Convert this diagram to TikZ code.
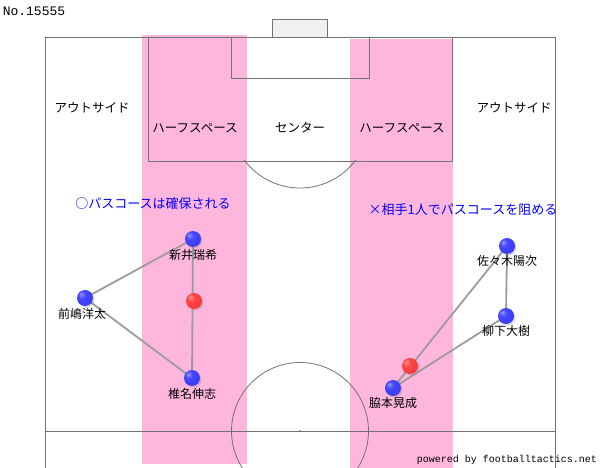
\documentclass[tikz,border=0pt]{standalone}
\usepackage{fontspec}
\setmainfont{Noto Sans CJK JP}
\setmonofont{Liberation Mono}
\usetikzlibrary{positioning,shadows}

\definecolor{halfpink}{RGB}{255,182,220}
\definecolor{goalgrey}{RGB}{240,240,240}
\definecolor{lineg}{RGB}{115,115,115}
\definecolor{passg}{RGB}{155,155,155}

\pgfdeclareradialshading{blueball}{\pgfpoint{-12bp}{12bp}}{%
  color(0bp)=(rgb,255:red,150;green,150;blue,255);
  color(12bp)=(rgb,255:red,70;green,70;blue,255);
  color(40bp)=(rgb,255:red,55;green,55;blue,240);
  color(75bp)=(rgb,255:red,30;green,30;blue,170)}
\pgfdeclareradialshading{redball}{\pgfpoint{-12bp}{12bp}}{%
  color(0bp)=(rgb,255:red,255;green,150;blue,150);
  color(12bp)=(rgb,255:red,255;green,70;blue,70);
  color(40bp)=(rgb,255:red,240;green,50;blue,50);
  color(75bp)=(rgb,255:red,170;green,25;blue,25)}

\pgfdeclarelayer{pitch}
\pgfdeclarelayer{passes}
\pgfsetlayers{pitch,passes,main}

\tikzset{
  pitchline/.style={draw=lineg,line width=0.8pt},
  zone/.style={font=\fontsize{12.5}{14}\selectfont,inner sep=0pt},
  note/.style={font=\fontsize{13}{15}\selectfont,text=blue,inner sep=0pt},
  player/.style={circle,inner sep=0pt,minimum size=16pt,shading=blueball,
    drop shadow={opacity=0.3,shadow xshift=1.5pt,shadow yshift=-1.5pt}},
  rival/.style={player,shading=redball},
  playername/.style={font=\fontsize{12}{14}\selectfont,inner sep=0pt},
  passline/.style={draw=passg,line width=1.8pt},
}

\begin{document}
\begin{tikzpicture}[x=1pt,y=-1pt]
\useasboundingbox (0,0) rectangle (600,468);

\begin{pgfonlayer}{pitch}
\fill[halfpink] (142,35) rectangle (247,464);
\fill[halfpink] (350,39) rectangle (453,468);
\draw[pitchline] (45,468) -- (45,37) -- (555,37) -- (555,468);
\draw[pitchline] (45,431) -- (555,431);
\draw[pitchline] (148,37) rectangle (452,161);
\draw[pitchline] (231,37) rectangle (369,78);
\draw[pitchline,fill=goalgrey] (272,19) rectangle (327,37);
\begin{scope}
\clip (0,161) rectangle (600,468);
\draw[pitchline] (300,118.5) circle[radius=69.5];
\end{scope}
\draw[pitchline] (300,431) circle[radius=68.5];
\fill[lineg] (300,431) circle[radius=1];
\end{pgfonlayer}

\node[font=\ttfamily\fontsize{13}{15}\selectfont,inner sep=0pt] (number) at (34,11) {No.15555};
\node[font=\ttfamily\fontsize{10}{12}\selectfont,inner sep=0pt] (credit) at (507,460) {powered by footballtactics.net};

\node[zone] (out-l) at (92,108) {アウトサイド};
\node[zone] (out-r) at (514,108) {アウトサイド};
\node[zone] (half-l) at (195,128) {ハーフスペース};
\node[zone] (centre) at (300,128) {センター};
\node[zone] (half-r) at (402,128) {ハーフスペース};
\node[note] (note-l) at (153,204) {○パスコースは確保される};
\node[note] (note-r) at (463,210) {×相手1人でパスコースを阻める};

\node[player] (arai) at (193,239) {};
\node[player] (maeshima) at (85,298) {};
\node[rival] (red-l) at (194,301) {};
\node[player] (shiina) at (192,378) {};
\node[player] (sasaki) at (507,246) {};
\node[player] (yagishita) at (506,316) {};
\node[rival] (red-r) at (410,366) {};
\node[player] (wakimoto) at (393,388) {};

\node[playername,below=1.5pt of arai] (arai-name) {新井瑞希};
\node[playername,below=1.5pt of maeshima,xshift=-3pt] (maeshima-name) {前嶋洋太};
\node[playername,below=1.5pt of shiina] (shiina-name) {椎名伸志};
\node[playername,below=1.5pt of sasaki] (sasaki-name) {佐々木陽次};
\node[playername,below=1.5pt of yagishita] (yagishita-name) {柳下大樹};
\node[playername,below=1.5pt of wakimoto] (wakimoto-name) {脇本晃成};

\begin{pgfonlayer}{passes}
\draw[passline] (maeshima.center) -- (arai.center);
\draw[passline] (maeshima.center) -- (shiina.center);
\draw[passline] (arai.center) -- (shiina.center);
\draw[passline] (wakimoto.center) -- (sasaki.center);
\draw[passline] (wakimoto.center) -- (yagishita.center);
\draw[passline] (sasaki.center) -- (yagishita.center);
\end{pgfonlayer}
\end{tikzpicture}
\end{document}
